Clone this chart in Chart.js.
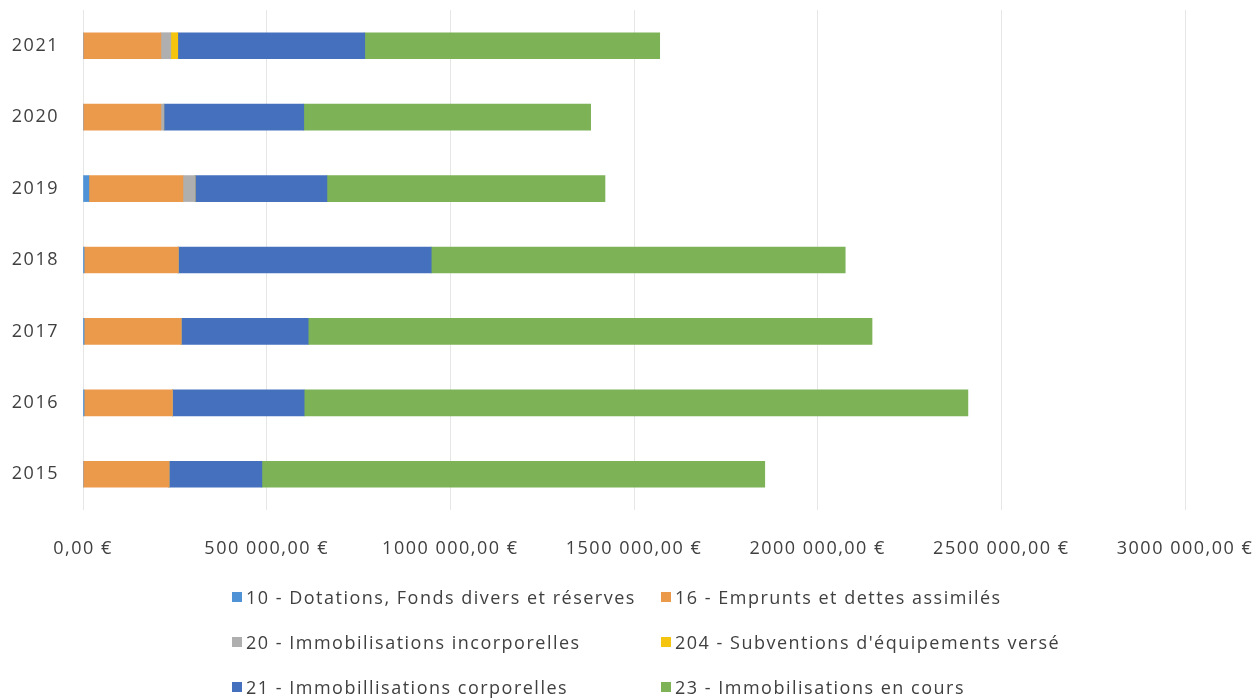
<!DOCTYPE html>
<html lang="fr">
<head>
<meta charset="utf-8">
<title>Dépenses d'investissement par chapitre</title>
<script src="https://cdn.jsdelivr.net/npm/chart.js@4.4.1/dist/chart.umd.min.js"></script>
<style>
  html, body { margin: 0; padding: 0; background: #ffffff; }
  #wrap { position: relative; width: 1258px; height: 698px; }
  #chart { position: absolute; left: 0; top: 0; }
  #legend {
    position: absolute; left: 0; top: 0; width: 1258px; height: 698px;
    pointer-events: none;
    font-family: "Open Sans", sans-serif; font-size: 18px; letter-spacing: 1.5px; color: #404040;
  }
  .item { position: absolute; display: flex; align-items: center; white-space: nowrap; height: 24px; }
  .box { width: 10px; height: 10px; margin-right: 4px; }
</style>
</head>
<body>
<div id="wrap">
  <canvas id="chart" width="1258" height="698"></canvas>
  <div id="legend"></div>
</div>
<script>
// Years, listed chronologically (drawn 2021 at the top)
const years = ['2015', '2016', '2017', '2018', '2019', '2020', '2021'];

// Amounts per chapter, in euros
const ch10_dotations     = [0, 3000, 3000, 3000, 16000, 0, 0];
const ch16_emprunts      = [234000, 240000, 264000, 256000, 256000, 212000, 212000];
const ch20_incorporelles = [0, 0, 0, 0, 33000, 8000, 27000];
const ch204_subventions  = [0, 0, 0, 0, 0, 0, 19000];
const ch21_corporelles   = [253000, 359000, 346000, 689000, 359000, 381000, 509000];
const ch23_en_cours      = [1369000, 1807000, 1535000, 1127000, 757000, 781000, 803000];

// Axis ticks
const tickValues = [0, 500000, 1000000, 1500000, 2000000, 2500000, 3000000];

const seriesLabels = [
  '10 - Dotations, Fonds divers et réserves',
  '16 - Emprunts et dettes assimilés',
  '20 - Immobilisations incorporelles',
  "204 - Subventions d'équipements versé",
  '21 - Immobillisations corporelles',
  '23 - Immobilisations en cours'
];
const seriesData = [ch10_dotations, ch16_emprunts, ch20_incorporelles, ch204_subventions, ch21_corporelles, ch23_en_cours];
const seriesColors = ['#4f93d6', '#eb9a4c', '#afafaf', '#f5c40f', '#4570be', '#7db257'];

const FONT = '"Open Sans", sans-serif';

// "1000 000,00 €" style: only the last thousands group is split off
function formatEuro(v) {
  const s = Math.round(v).toString();
  const out = s.length > 3 ? s.slice(0, s.length - 3) + ' ' + s.slice(s.length - 3) : s;
  return out + ',00 €';
}

// Slightly spaced lettering for the axis labels
const letterSpacing = {
  id: 'letterSpacing',
  beforeDraw(chart) { chart.ctx.letterSpacing = '1.5px'; },
  afterDraw(chart) { chart.ctx.letterSpacing = '0px'; }
};

// Builds the two-column legend as HTML from the chart's datasets
const htmlLegend = {
  id: 'htmlLegend',
  afterUpdate(chart) {
    const host = document.getElementById('legend');
    host.innerHTML = '';
    const colX = [232, 661];
    const rowY = [597, 642, 687];
    chart.data.datasets.forEach((ds, i) => {
      const item = document.createElement('div');
      item.className = 'item';
      item.style.left = colX[i % 2] + 'px';
      item.style.top = (rowY[Math.floor(i / 2)] - 12) + 'px';
      const box = document.createElement('span');
      box.className = 'box';
      box.style.background = ds.backgroundColor;
      const txt = document.createElement('span');
      txt.textContent = ds.label;
      item.appendChild(box);
      item.appendChild(txt);
      host.appendChild(item);
    });
  }
};

new Chart(document.getElementById('chart'), {
  type: 'bar',
  data: {
    labels: years,
    datasets: seriesLabels.map((label, i) => ({
      label: label,
      data: seriesData[i],
      backgroundColor: seriesColors[i],
      borderWidth: 0,
      barThickness: 26
    }))
  },
  options: {
    indexAxis: 'y',
    responsive: false,
    animation: false,
    layout: { padding: { top: 10, right: 73, bottom: 128, left: 0 } },
    plugins: {
      legend: { display: false },
      tooltip: { enabled: false }
    },
    scales: {
      x: {
        stacked: true,
        min: 0,
        max: 3000000,
        afterBuildTicks(scale) { scale.ticks = tickValues.map(v => ({ value: v })); },
        afterFit(scale) {
          scale.height = 60;
          scale.paddingLeft = 0;
          scale.paddingRight = 0;
        },
        grid: { color: '#e6e6e6', lineWidth: 1, drawTicks: false },
        border: { display: false },
        ticks: {
          padding: 28,
          color: '#404040',
          font: { family: FONT, size: 18 },
          maxRotation: 0,
          callback: (v) => formatEuro(v)
        }
      },
      y: {
        stacked: true,
        reverse: true,
        afterFit(scale) {
          scale.width = 83;
          scale.paddingTop = 0;
          scale.paddingBottom = 0;
        },
        grid: { display: false, drawTicks: false },
        border: { display: false },
        ticks: {
          padding: 24,
          color: '#404040',
          font: { family: FONT, size: 18 }
        }
      }
    }
  },
  plugins: [letterSpacing, htmlLegend]
});
</script>
</body>
</html>
